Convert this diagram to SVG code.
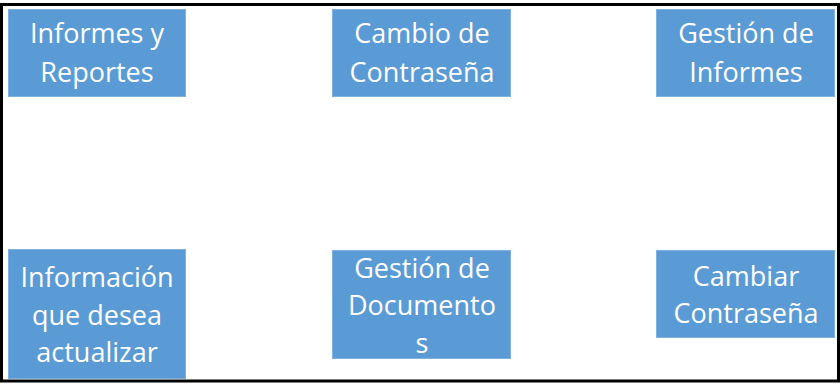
<svg xmlns="http://www.w3.org/2000/svg" width="840" height="384" viewBox="0 0 840 384">
<style>
.box{fill:#5B9BD5;stroke:#7FB1DF;stroke-width:1}
.t{font-family:"Open Sans","Noto Sans",sans-serif;font-size:27px;fill:#FFFFFF;text-anchor:middle}
</style>
<rect x="0" y="0" width="840" height="384" fill="#FFFFFF"/>
<rect x="1.5" y="4.5" width="837" height="376.5" fill="none" stroke="#000000" stroke-width="3"/>
<g id="connectors"></g>
<g id="informes-reportes">
<rect class="box" x="8.5" y="9.5" width="177" height="87"/>
<text class="t" x="97" y="43">Informes y</text>
<text class="t" x="97" y="82">Reportes</text>
</g>
<g id="cambio-contrasena">
<rect class="box" x="332.5" y="9.5" width="178" height="87"/>
<text class="t" x="422" y="43">Cambio de</text>
<text class="t" x="422" y="82">Contraseña</text>
</g>
<g id="gestion-informes">
<rect class="box" x="656.5" y="9.5" width="178" height="87"/>
<text class="t" x="746" y="43">Gestión de</text>
<text class="t" x="746" y="82">Informes</text>
</g>
<g id="informacion-actualizar">
<rect class="box" x="8.5" y="249.5" width="177" height="129"/>
<text class="t" x="97" y="287">Información</text>
<text class="t" x="97" y="325">que desea</text>
<text class="t" x="97" y="362">actualizar</text>
</g>
<g id="gestion-documentos">
<rect class="box" x="332.5" y="250.5" width="178" height="108"/>
<text class="t" x="422" y="278">Gestión de</text>
<text class="t" x="422" y="315">Documento</text>
<text class="t" x="422" y="353">s</text>
</g>
<g id="cambiar-contrasena">
<rect class="box" x="656.5" y="250.5" width="178" height="87"/>
<text class="t" x="746" y="286">Cambiar</text>
<text class="t" x="746" y="323">Contraseña</text>
</g>
</svg>
